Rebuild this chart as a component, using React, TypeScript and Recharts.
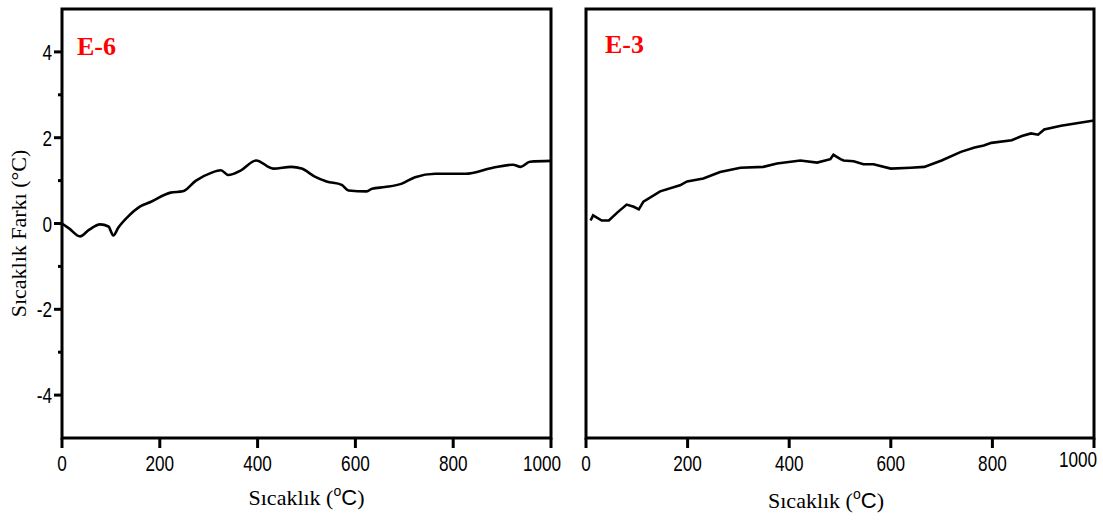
import React from 'react';
import { LineChart, Line, XAxis, YAxis, ReferenceArea } from 'recharts';

// E-6 panel (left)
const tempE6 = [0, 15, 37, 55, 78, 95, 105, 115, 134, 160, 181, 222, 247, 274, 305, 325, 340, 366, 397, 432, 469, 490, 516, 541, 572, 586, 623, 634, 660, 695, 722, 763, 825, 881, 922, 938, 957, 1000];
const diffE6 = [0, -0.12, -0.3, -0.15, -0.02, -0.07, -0.28, -0.1, 0.15, 0.4, 0.5, 0.72, 0.75, 1.0, 1.18, 1.24, 1.13, 1.24, 1.47, 1.28, 1.32, 1.28, 1.1, 0.98, 0.9, 0.77, 0.75, 0.81, 0.85, 0.93, 1.08, 1.16, 1.16, 1.3, 1.37, 1.32, 1.44, 1.46];

// E-3 panel (right)
const tempE3 = [9, 14, 31, 45, 62, 80, 94, 104, 113, 146, 185, 199, 231, 264, 304, 349, 376, 422, 455, 481, 487, 501, 507, 527, 546, 566, 600, 639, 666, 700, 738, 765, 783, 798, 838, 858, 876, 890, 902, 935, 1000];
const diffE3 = [0.07, 0.19, 0.07, 0.07, 0.26, 0.44, 0.39, 0.33, 0.51, 0.75, 0.89, 0.98, 1.05, 1.2, 1.3, 1.32, 1.4, 1.47, 1.42, 1.5, 1.6, 1.5, 1.47, 1.45, 1.38, 1.38, 1.28, 1.3, 1.32, 1.47, 1.67, 1.77, 1.82, 1.88, 1.94, 2.04, 2.1, 2.07, 2.19, 2.28, 2.4];

const xTicks = [0, 200, 400, 600, 800, 1000];
const yTicks = [-4, -3, -2, -1, 0, 1, 2, 3, 4];

const SANS = '"Liberation Sans", Arial, sans-serif';
const SERIF = '"Liberation Serif", "Times New Roman", serif';

const toRows = (t: number[], v: number[]) => t.map((temp, i) => ({ temp, diff: v[i] }));

function YTick({ x, y, payload }: any) {
  const v = payload.value;
  const major = v % 2 === 0;
  return (
    <g>
      <line x1={x - (major ? 8 : 4)} x2={x} y1={y} y2={y} stroke="#000" strokeWidth={3} />
      {major && (
        <text
          transform={`translate(${x - 10},${y + 8}) scale(0.78,1)`}
          textAnchor="end"
          fontFamily={SANS}
          fontSize={22}
          fill="#000"
        >
          {v}
        </text>
      )}
    </g>
  );
}

function makeXTick(lastDx: number, lastDy: number) {
  return function XTick({ x, y, payload }: any) {
    const v = payload.value;
    const dx = v === 1000 ? lastDx : 0;
    const dy = v === 1000 ? lastDy : 0;
    return (
      <g>
        <line x1={x} x2={x} y1={y} y2={y + 10} stroke="#000" strokeWidth={3} />
        <text
          transform={`translate(${x + dx},${y + 33 + dy}) scale(0.78,1)`}
          textAnchor="middle"
          fontFamily={SANS}
          fontSize={22}
          fill="#000"
        >
          {v}
        </text>
      </g>
    );
  };
}

function makeXLabel(dx: number, dy: number) {
  return function XLabel({ viewBox }: any) {
    const cx = viewBox.x + viewBox.width / 2 + dx;
    return (
      <text x={cx} y={viewBox.y + 67 + dy} textAnchor="middle" fontFamily={SERIF} fontSize={22} fill="#000">
        Sıcaklık (
        <tspan fontFamily={SANS} fontSize={14} dy={-9}>o</tspan>
        <tspan fontFamily={SANS} dy={9}>C</tspan>)
      </text>
    );
  };
}

function YLabel({ viewBox }: any) {
  const cy = viewBox.y + viewBox.height / 2 + 10;
  return (
    <text
      transform={`translate(26,${cy}) rotate(-90)`}
      textAnchor="middle"
      fontFamily={SERIF}
      fontSize={22}
      fill="#000"
    >
      Sıcaklık Farkı (°C)
    </text>
  );
}

const LeftXTick = makeXTick(-9, 0);
const RightXTick = makeXTick(-16, -4);
const LeftXLabel = makeXLabel(0, 0);
const RightXLabel = makeXLabel(-14, 3);

const tagStyle: React.CSSProperties = {
  position: 'absolute',
  fontFamily: SERIF,
  fontWeight: 700,
  fontSize: 26,
  lineHeight: 1,
  color: '#ff0000',
};

export default function App() {
  return (
    <div style={{ position: 'absolute', left: 0, top: 0, width: 1103, height: 521, background: '#fff' }}>
      <div style={{ position: 'absolute', left: 0, top: 0 }}>
        <LineChart width={570} height={521} data={toRows(tempE6, diffE6)} margin={{ top: 9, right: 19, left: 0, bottom: 0 }}>
          <XAxis
            dataKey="temp"
            type="number"
            domain={[0, 1000]}
            ticks={xTicks}
            height={83}
            axisLine={false}
            tickLine={false}
            tickSize={0}
            tickMargin={0}
            tick={<LeftXTick />}
            interval={0}
            label={<LeftXLabel />}
          />
          <YAxis
            type="number"
            domain={[-5, 5]}
            ticks={yTicks}
            width={62}
            axisLine={false}
            tickLine={false}
            tickSize={0}
            tickMargin={0}
            tick={<YTick />}
            interval={0}
            label={<YLabel />}
          />
          <ReferenceArea x1={0} x2={1000} y1={-5} y2={5} fill="none" stroke="#000" strokeWidth={3} ifOverflow="visible" />
          <Line type="monotone" dataKey="diff" stroke="#000" strokeWidth={2.6} dot={false} isAnimationActive={false} />
        </LineChart>
      </div>
      <div style={{ position: 'absolute', left: 560, top: 0 }}>
        <LineChart width={543} height={521} data={toRows(tempE3, diffE3)} margin={{ top: 9, right: 9, left: 26, bottom: 0 }}>
          <XAxis
            dataKey="temp"
            type="number"
            domain={[0, 1000]}
            ticks={xTicks}
            height={83}
            axisLine={false}
            tickLine={false}
            tickSize={0}
            tickMargin={0}
            tick={<RightXTick />}
            interval={0}
            label={<RightXLabel />}
          />
          <YAxis type="number" domain={[-5, 5]} hide />
          <ReferenceArea x1={0} x2={1000} y1={-5} y2={5} fill="none" stroke="#000" strokeWidth={3} ifOverflow="visible" />
          <Line type="linear" dataKey="diff" stroke="#000" strokeWidth={2.6} dot={false} isAnimationActive={false} />
        </LineChart>
      </div>
      <div style={{ ...tagStyle, left: 77, top: 34 }}>E-6</div>
      <div style={{ ...tagStyle, left: 605, top: 32 }}>E-3</div>
    </div>
  );
}
